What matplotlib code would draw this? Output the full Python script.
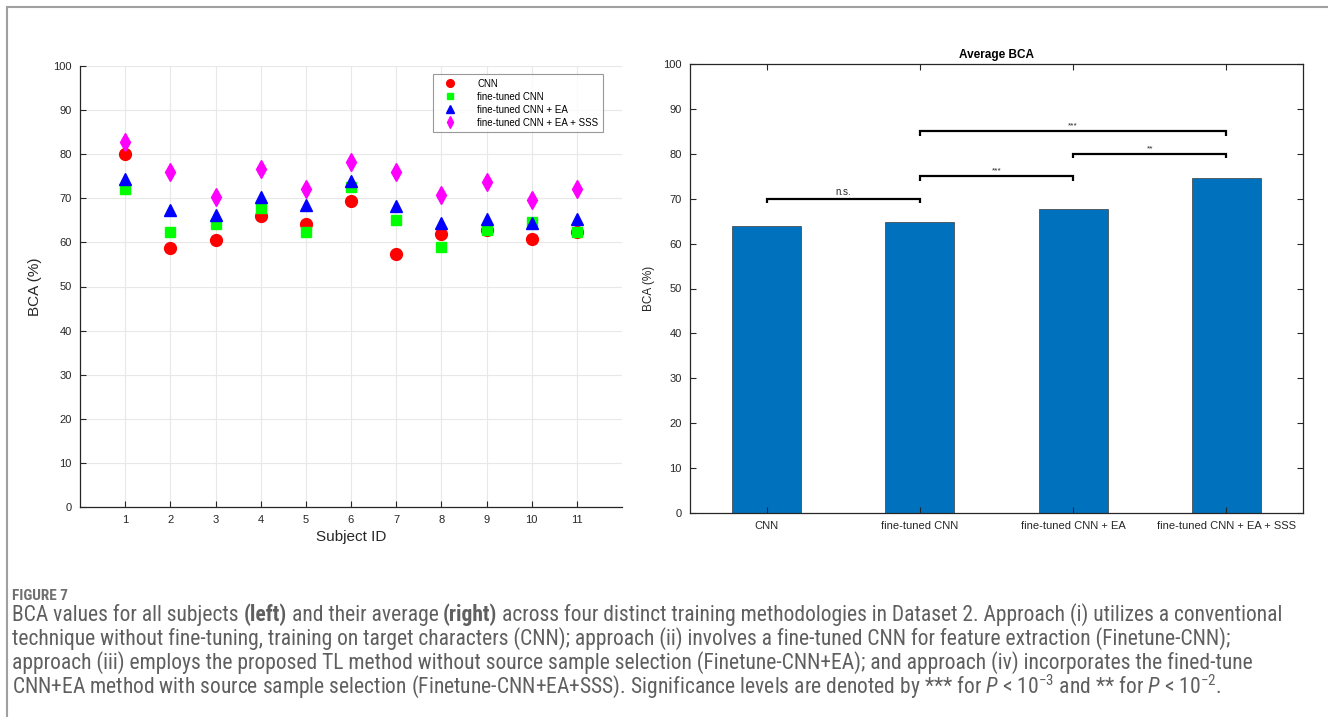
import numpy as np
import matplotlib
matplotlib.use("Agg")
import matplotlib.pyplot as plt
from matplotlib import font_manager
from matplotlib.patches import Rectangle

# per-subject BCA (%)
subjects = np.arange(1, 12)
cnn = [80.0, 58.7, 60.6, 65.9, 64.2, 69.4, 57.4, 61.9, 62.9, 60.8, 62.4]
ft_cnn = [72.2, 62.4, 64.1, 67.7, 62.4, 72.6, 65.0, 59.0, 62.8, 64.6, 62.4]
ft_ea = [74.3, 67.4, 66.3, 70.4, 68.4, 74.0, 68.3, 64.4, 65.3, 64.4, 65.4]
ft_ea_sss = [82.7, 76.0, 70.4, 76.6, 72.1, 78.3, 76.0, 70.7, 73.6, 69.7, 72.1]

methods = ["CNN", "fine-tuned CNN", "fine-tuned CNN + EA", "fine-tuned CNN + EA + SSS"]
avg_bca = [64.0, 64.9, 67.8, 74.5]

# significance brackets: (bar a, bar b, height, label)
brackets = [(1, 2, 70, "n.s."), (2, 3, 75, "***"), (3, 4, 80, "**"), (2, 4, 85, "***")]

W, H = 1328, 717
plt.rcParams["font.family"] = ["Liberation Sans", "DejaVu Sans"]

fig = plt.figure(figsize=(W / 100, H / 100), dpi=100)


def pick_font(cands):
    for c in cands:
        try:
            font_manager.findfont(c, fallback_to_default=False)
            return c
        except Exception:
            pass
    return "DejaVu Sans"


tick_col = "#262626"

# ---------- left: per subject ----------
ax1 = fig.add_axes([80 / W, 1 - 507 / H, 542 / W, 441 / H])
ax1.plot(subjects, cnn, "o", color="#ff0000", ms=8.5, label="CNN")
ax1.plot(subjects, ft_cnn, "s", color="#00ff00", ms=7.5, label="fine-tuned CNN")
ax1.plot(subjects, ft_ea, "^", color="#0000ff", ms=8.5, label="fine-tuned CNN + EA")
ax1.plot(subjects, ft_ea_sss, "d", color="#ff00ff", ms=9, label="fine-tuned CNN + EA + SSS")
ax1.set_xlim(0, 12)
ax1.set_ylim(0, 100)
ax1.set_xticks(subjects)
ax1.set_yticks(np.arange(0, 101, 10))
ax1.grid(True, color="#e8e8e8", lw=0.8)
ax1.set_axisbelow(True)
for s in ["top", "right"]:
    ax1.spines[s].set_visible(False)
for s in ["left", "bottom"]:
    ax1.spines[s].set_color(tick_col)
    ax1.spines[s].set_linewidth(0.9)
ax1.tick_params(direction="in", length=4, width=0.8, labelsize=8, colors=tick_col, pad=6)
ax1.set_xlabel("Subject ID", fontsize=11, color=tick_col, labelpad=3)
ax1.set_ylabel("BCA (%)", fontsize=11, color=tick_col, labelpad=8)
leg = ax1.legend(loc="upper right", bbox_to_anchor=(0.974, 0.993), fontsize=7, markerscale=0.65,
                 frameon=True, fancybox=False, edgecolor="#808080", handletextpad=1.5,
                 borderpad=0.5, labelspacing=0.3, handlelength=2.5)
leg.get_frame().set_linewidth(0.8)

# ---------- right: averages ----------
ax2 = fig.add_axes([690 / W, 1 - 513 / H, 613 / W, 449 / H])
pos = np.arange(1, len(methods) + 1)
ax2.bar(pos, avg_bca, width=0.45, color="#0072bd", edgecolor="#3c3c3c", linewidth=0.5)
ax2.set_xlim(0.5, 4.5)
ax2.set_ylim(0, 100)
ax2.set_xticks(pos)
ax2.set_xticklabels(methods)
ax2.set_yticks(np.arange(0, 101, 10))
for s in ax2.spines.values():
    s.set_color(tick_col)
    s.set_linewidth(0.9)
ax2.tick_params(direction="in", length=4, width=0.8, labelsize=8, colors=tick_col,
                top=True, right=True, pad=6)
ax2.set_ylabel("BCA (%)", fontsize=8.5, color=tick_col, labelpad=6)
ax2.set_title("Average BCA", fontsize=8.5, fontweight="bold", pad=4)
for a, b, h, lab in brackets:
    ax2.plot([a, a, b, b], [h - 1, h, h, h - 1], color="black", lw=1.6,
             solid_joinstyle="miter", solid_capstyle="butt")
    ax2.text((a + b) / 2, h + 0.4, lab, ha="center", va="bottom",
             fontsize=7 if lab == "n.s." else 6, color="#262626")

# ---------- page frame ----------
fig.patches.append(Rectangle((7 / W, -0.1), 1.2, 1 - 7 / H + 0.1, transform=fig.transFigure,
                             fill=False, edgecolor="#a0a0a0", lw=1.5))

# ---------- caption ----------
cap_font = pick_font(["Liberation Sans Narrow", "Roboto Condensed", "Open Sans Condensed",
                      "Open Sans", "Lato"])
cap_col = "#5f5f5f"
plt.rcParams["mathtext.fontset"] = "custom"
plt.rcParams["mathtext.rm"] = cap_font
plt.rcParams["mathtext.it"] = cap_font + ":italic"

lines = [
    [("BCA values for all subjects", "normal"), ("(left)", "bold"),
     ("and their average", "normal"), ("(right)", "bold"),
     ("across four distinct training methodologies in Dataset 2. Approach (i) utilizes a conventional", "normal")],
    [("technique without fine-tuning, training on target characters (CNN); approach (ii) involves a fine-tuned CNN for feature extraction (Finetune-CNN);", "normal")],
    [("approach (iii) employs the proposed TL method without source sample selection (Finetune-CNN+EA); and approach (iv) incorporates the fined-tune", "normal")],
    [(r"CNN+EA method with source sample selection (Finetune-CNN+EA+SSS). Significance levels are denoted by *** for $P$ < 10$^{-3}$ and ** for $P$ < 10$^{-2}$.", "normal")],
]
baselines = [621, 645, 669, 693]

renderer = fig.canvas.get_renderer()


def width_of(txt, size, weight="normal"):
    t = fig.text(0, 0, txt, fontsize=size, fontweight=weight, family=cap_font)
    w = t.get_window_extent(renderer).width
    t.remove()
    return w


# choose a size so the first line spans the same width as in the reference
base = 12.0
w_first = sum(width_of(s, base, wt) for s, wt in lines[0]) + 4 * (width_of("x x", base) - width_of("xx", base))
size = min(15.5, base * 1283 / w_first)
space = width_of("x x", size) - width_of("xx", size)

fig.text(12 / W, 1 - 600 / H, "FIGURE 7", fontsize=11, fontweight="bold", color="#707070",
         family=cap_font, va="baseline")

for segs, yb in zip(lines, baselines):
    x = 12
    for i, (s, wt) in enumerate(segs):
        t = fig.text(x / W, 1 - yb / H, s, fontsize=size, fontweight=wt, family=cap_font,
                     color=cap_col, va="baseline")
        x += t.get_window_extent(renderer).width + space

fig.savefig("out.png", dpi=100)
